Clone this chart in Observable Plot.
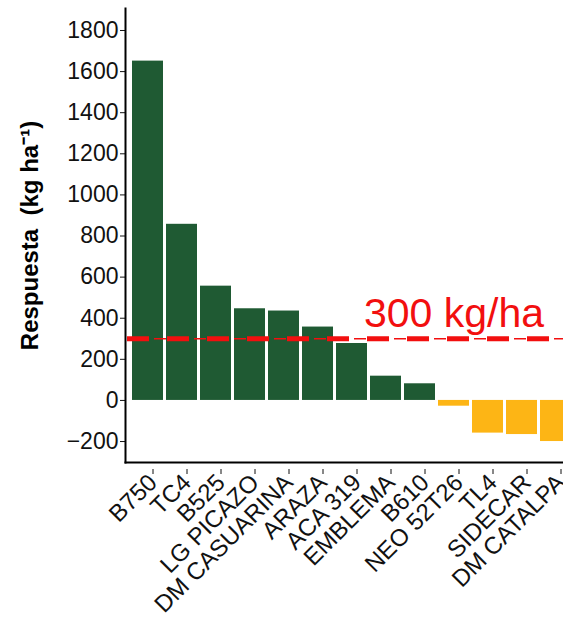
<!DOCTYPE html>
<html>
<head>
<meta charset="utf-8">
<script src="https://cdn.jsdelivr.net/npm/d3@7"></script>
<script src="https://cdn.jsdelivr.net/npm/@observablehq/plot@0.6"></script>
<style>
  html, body { margin: 0; padding: 0; background: white; overflow: hidden; width: 563px; height: 621px; }
  #chart svg { max-width: none !important; display: block; }
</style>
</head>
<body>
<div id="chart"></div>
<script>
const categories = ["B750", "TC4", "B525", "LG PICAZO", "DM CASUARINA", "ARAZA", "ACA 319", "EMBLEMA", "B610", "NEO 52T26", "TL4", "SIDECAR", "DM CATALPA"];
const respuesta = [1651, 857, 556, 446, 435, 357, 277, 118, 81, -28, -159, -166, -200];
const yTicks = [-200, 0, 200, 400, 600, 800, 1000, 1200, 1400, 1600, 1800];
const umbral = 300;
const umbralLabel = "300 kg/ha";
const umbralLabelAt = "NEO 52T26";
const yTitle = "Respuesta  (kg ha⁻¹)";

const data = categories.map((c, i) => ({cultivar: c, valor: respuesta[i]}));

const green = "#1f5a33";
const yellow = "#fdb515";
const red = "#f20f0f";

const chart = Plot.plot({
  width: 578,
  height: 621,
  marginLeft: 125,
  marginRight: 0,
  marginTop: 8,
  marginBottom: 159,
  style: {fontFamily: "'Liberation Sans', Arial, Helvetica, sans-serif", fontSize: "23px", background: "white", color: "#111"},
  x: {domain: categories, paddingInner: 0.08, paddingOuter: 0.12, label: null},
  y: {domain: [-302, 1907], label: null},
  marks: [
    Plot.barY(data, {x: "cultivar", y: "valor", fill: d => d.valor >= 0 ? green : yellow}),
    Plot.ruleY([umbral], {stroke: red, strokeWidth: 5, strokeDasharray: "22,18", strokeDashoffset: -2}),
    Plot.ruleY([umbral], {stroke: red, strokeWidth: 1.6, strokeDasharray: "0,27,12,1", strokeDashoffset: -2}),
    Plot.text([umbralLabel], {x: [umbralLabelAt], y: [umbral], text: d => d, dy: -25, fontSize: 41, fill: red, textAnchor: "middle"}),
    Plot.axisY({ticks: yTicks, tickSize: 5, tickPadding: 2, fontSize: 23, tickFormat: d => d < 0 ? "−" + Math.abs(d) : String(d), label: null}),
    Plot.axisX({tickSize: 5, tickPadding: 4, fontSize: 24, tickRotate: -45, dx: 5, dy: 7, label: null}),
    Plot.frame({anchor: "left", stroke: "black", strokeWidth: 2}),
    Plot.frame({anchor: "bottom", stroke: "black", strokeWidth: 2}),
    Plot.text([yTitle], {frameAnchor: "left", text: d => d, rotate: -90, dx: -95, dy: 0, fontSize: 24, fontWeight: "bold", textAnchor: "middle", fill: "black"})
  ]
});
document.getElementById("chart").appendChild(chart);
</script>
</body>
</html>
